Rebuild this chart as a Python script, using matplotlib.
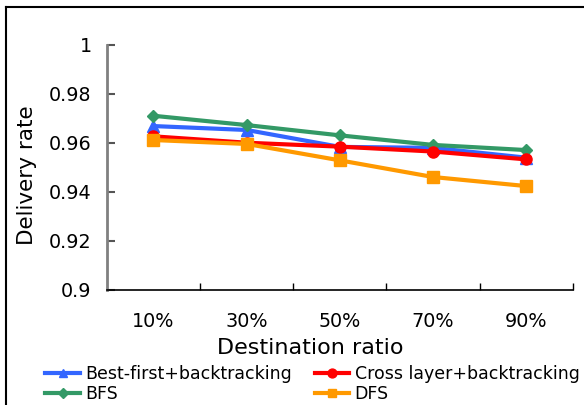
import matplotlib
matplotlib.use("Agg")
import matplotlib.pyplot as plt
from matplotlib.lines import Line2D

# Data
ratios = ["10%", "30%", "50%", "70%", "90%"]
best_first = [0.9669, 0.9653, 0.9584, 0.9580, 0.9540]
cross_layer = [0.9627, 0.9601, 0.9585, 0.9565, 0.9533]
bfs = [0.9711, 0.9673, 0.9631, 0.9592, 0.9571]
dfs = [0.9612, 0.9596, 0.9529, 0.9461, 0.9424]

fig = plt.figure(figsize=(5.84, 4.05), dpi=100)
ax = fig.add_axes([0.183, 0.284, 0.798, 0.605])

x = range(len(ratios))
lw = 3
ax.plot(x, best_first, color="#3366FF", marker="^", ms=8, lw=lw, label="Best-first+backtracking")
ax.plot(x, bfs, color="#339966", marker="D", ms=6, lw=lw, label="BFS")
ax.plot(x, cross_layer, color="#FF0000", marker="o", ms=8, lw=lw, label="Cross layer+backtracking")
ax.plot(x, dfs, color="#FF9900", marker="s", ms=8, lw=lw, label="DFS")

# Axes styling (Excel-like)
ax.set_xlim(-0.5, 4.5)
ax.set_ylim(0.9, 1.0)
ax.set_yticks([0.9, 0.92, 0.94, 0.96, 0.98, 1.0])
ax.set_yticklabels(["0.9", "0.92", "0.94", "0.96", "0.98", "1"])
ax.set_xticks(list(x))
ax.set_xticklabels(ratios)
ax.set_xticks([0.5, 1.5, 2.5, 3.5, 4.5], minor=True)
ax.tick_params(axis="x", which="major", length=0, pad=16, labelsize=13.8)
ax.tick_params(axis="x", which="minor", direction="in", length=5, width=1, color="black")
ax.tick_params(axis="y", direction="in", length=6, width=1.5, color="#555555", labelsize=13.8, pad=11)

for side in ["top", "right"]:
    ax.spines[side].set_visible(False)
ax.spines["left"].set_color("#808080")
ax.spines["left"].set_linewidth(2)
ax.spines["bottom"].set_color("black")
ax.spines["bottom"].set_linewidth(1.2)

ax.set_xlabel("Destination ratio", fontsize=16)
ax.xaxis.set_label_coords(0.436, -0.195)
ax.set_ylabel("Delivery rate", fontsize=15.5)
ax.yaxis.set_label_coords(-0.150, 0.47)

# Legend below the plot, two columns
fig.legend(loc="lower left", bbox_to_anchor=(0.066, -0.012), ncol=2, frameon=False,
           fontsize=12.5, handlelength=2.0, handletextpad=0.3, columnspacing=1.3,
           labelspacing=0.1, borderaxespad=0, markerscale=0.8)

# Chart frame (only top and left edges visible in the reference)
fig.add_artist(Line2D([0.010, 1.0], [0.983, 0.983], transform=fig.transFigure, color="black", lw=1.5))
fig.add_artist(Line2D([0.010, 0.010], [0.0, 0.983], transform=fig.transFigure, color="black", lw=1.5))

fig.savefig("out.png", dpi=100)
